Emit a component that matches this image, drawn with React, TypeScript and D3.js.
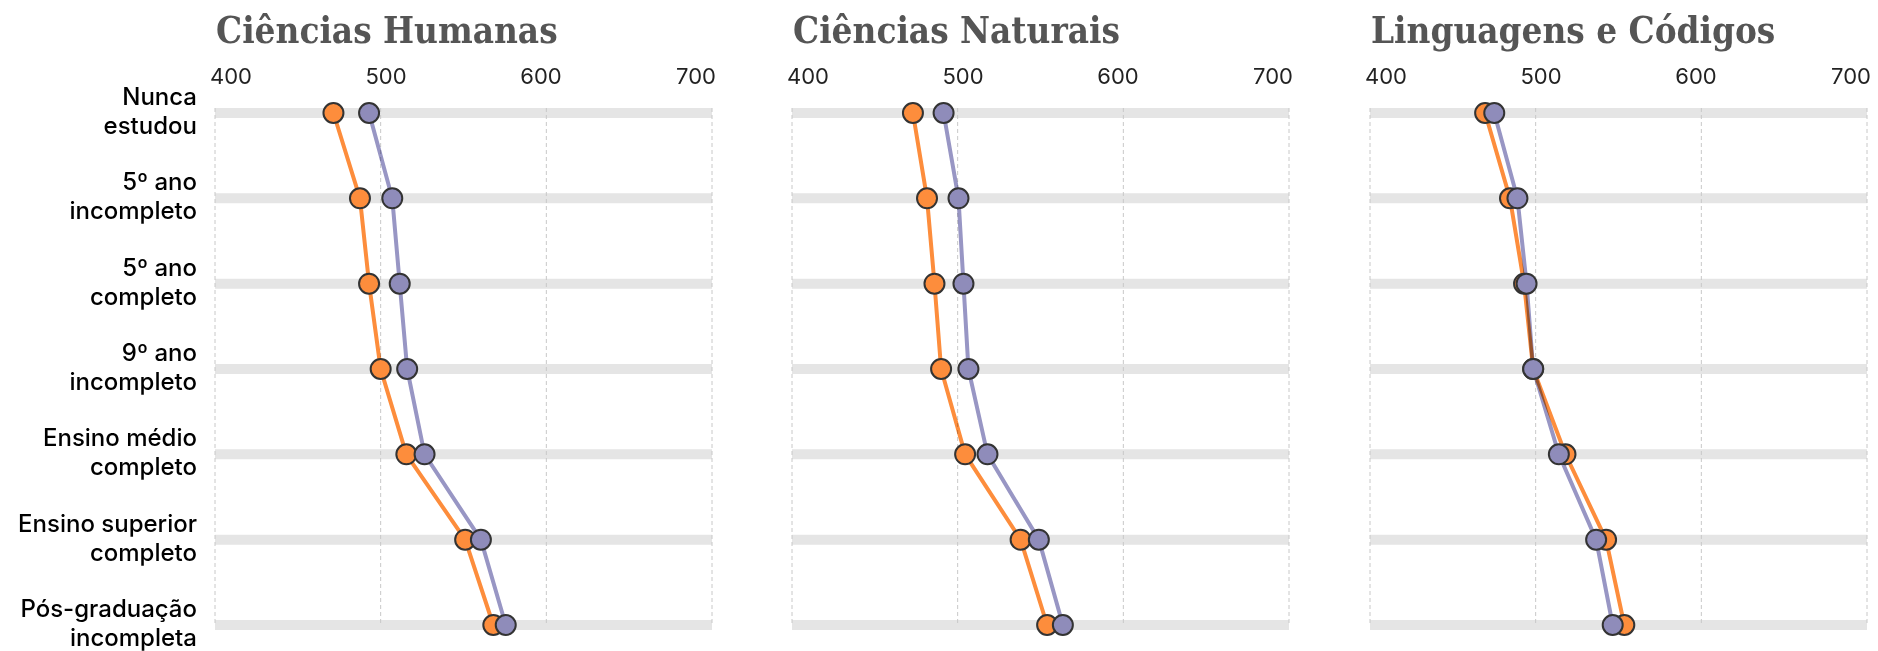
import React from 'react';
import * as d3 from 'd3';

const subjects = ['Ciências Humanas', 'Ciências Naturais', 'Linguagens e Códigos'];

const categories = [
  ['Nunca', 'estudou'],
  ['5º ano', 'incompleto'],
  ['5º ano', 'completo'],
  ['9º ano', 'incompleto'],
  ['Ensino médio', 'completo'],
  ['Ensino superior', 'completo'],
  ['Pós-graduação', 'incompleta'],
];

const ticks = [400, 500, 600, 700];

// orange series, one array per subject
const orangeHumanas = [471.5, 487.5, 493, 500, 515.5, 551, 568];
const orangeNaturais = [473, 481.5, 486, 490, 504.5, 538, 554];
const orangeLinguagens = [469.5, 484.5, 493, 498.5, 518, 542.5, 553.5];

// purple series
const purpleHumanas = [493, 507, 511.5, 516, 526.5, 560.5, 575.5];
const purpleNaturais = [491.5, 500.5, 503.5, 506.5, 518, 549, 563.5];
const purpleLinguagens = [475, 489, 494.5, 498.5, 514, 536.5, 546.5];

const orangeSeries = [orangeHumanas, orangeNaturais, orangeLinguagens];
const purpleSeries = [purpleHumanas, purpleNaturais, purpleLinguagens];

const W = 1878;
const H = 651;
const panelLeft = [215, 792, 1370];
const panelWidth = 497;

const ORANGE = '#fd8d3c';
const PURPLE = '#8f8cba';
const PURPLE_LINE = '#9896c4';
const DOT_STROKE = '#333';

const sans = "Inter, 'Noto Sans', sans-serif";
const serif = "'DejaVu Serif Condensed', 'DejaVu Serif', serif";

const yScale = d3.scalePoint<number>()
  .domain(d3.range(categories.length))
  .range([113, 625]);

function Panel({ index }: { index: number }) {
  const x0 = panelLeft[index];
  const x1 = x0 + panelWidth;
  const x = d3.scaleLinear().domain([400, 700]).range([x0, x1]);
  // tick labels sit inside the panel: first left-aligned, last right-aligned
  const labelX = d3.scaleLinear().domain([400, 700]).range([x0 + 16, x1 - 16]);
  const orange = orangeSeries[index];
  const purple = purpleSeries[index];

  const line = d3.line<number>()
    .x((d) => x(d))
    .y((_, i) => yScale(i) as number);

  const yTop = (yScale(0) as number) - 5;
  const yBottom = yScale(categories.length - 1) as number;

  return (
    <g>
      <text
        x={x0 + 1}
        y={43}
        fontFamily={serif}
        fontWeight={700}
        fontSize={36.5}
        fill="#555"
        style={{ fontStretch: 'condensed' }}
      >
        {subjects[index]}
      </text>

      {ticks.map((t) => (
        <text key={t} x={labelX(t)} y={84} textAnchor="middle" fontFamily={sans} fontSize={22} fill="#222">
          {t}
        </text>
      ))}

      {categories.map((_, i) => (
        <line
          key={i}
          x1={x0}
          x2={x1}
          y1={yScale(i)}
          y2={yScale(i)}
          stroke="#e5e5e5"
          strokeWidth={10}
        />
      ))}

      {ticks.map((t) => (
        <line
          key={t}
          x1={x(t)}
          x2={x(t)}
          y1={yTop}
          y2={yBottom}
          stroke="#c8c8c8"
          strokeWidth={1}
          strokeDasharray="4 3"
        />
      ))}

      <path d={line(purple) ?? ''} fill="none" stroke={PURPLE_LINE} strokeWidth={4} style={{ mixBlendMode: 'multiply' }} />
      <path d={line(orange) ?? ''} fill="none" stroke={ORANGE} strokeWidth={4} style={{ mixBlendMode: 'multiply' }} />

      {orange.map((v, i) => (
        <circle key={'o' + i} cx={x(v)} cy={yScale(i)} r={10} fill={ORANGE} stroke={DOT_STROKE} strokeWidth={2} />
      ))}
      {purple.map((v, i) => (
        <circle key={'p' + i} cx={x(v)} cy={yScale(i)} r={10} fill={PURPLE} stroke={DOT_STROKE} strokeWidth={2} />
      ))}
    </g>
  );
}

export default function App() {
  return (
    <div style={{ position: 'fixed', left: 0, top: 0, width: W, height: H, background: '#fff' }}>
      <svg width={W} height={H} style={{ display: 'block' }}>
        {categories.map((c, i) => (
          <text key={i} textAnchor="end" fontFamily={sans} fontWeight={500} fontSize={24} fill="#000">
            <tspan x={197} y={(yScale(i) as number) - 8}>{c[0]}</tspan>
            <tspan x={197} y={(yScale(i) as number) + 21}>{c[1]}</tspan>
          </text>
        ))}
        {subjects.map((_, i) => (
          <Panel key={i} index={i} />
        ))}
      </svg>
    </div>
  );
}
